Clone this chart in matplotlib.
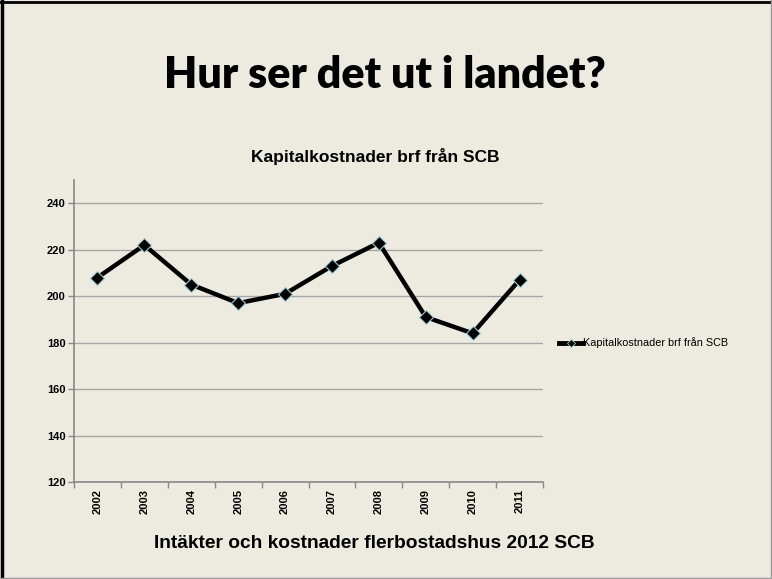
import matplotlib.pyplot as plt
from matplotlib.lines import Line2D

# data
ar = ['2002', '2003', '2004', '2005', '2006', '2007', '2008', '2009', '2010', '2011']
kostnad = [208, 222, 205, 197, 201, 213, 223, 191, 184, 207]
y_ticks = [120, 140, 160, 180, 200, 220, 240]

bg = '#EDEBE0'
grid_col = '#A6A6A6'

fig = plt.figure(figsize=(7.72, 5.79), dpi=100, facecolor=bg)
ax = fig.add_axes([74 / 772, 1 - 482 / 579, (543 - 74) / 772, (482 - 180) / 579])
ax.set_facecolor(bg)

x = list(range(len(ar)))
ax.plot(x, kostnad, color='black', linewidth=3.2, marker='D', markersize=7,
        markerfacecolor='black', markeredgecolor='#9FCBD4', markeredgewidth=0.8,
        label='Kapitalkostnader brf från SCB', zorder=3)

ax.set_xlim(-0.5, len(ar) - 0.5)
ax.set_ylim(120, 250)
ax.set_yticks(y_ticks)
ax.set_yticklabels([str(v) for v in y_ticks], fontsize=8, fontweight='bold',
                   family='Liberation Sans')
ax.set_xticks(x)
ax.set_xticklabels(ar, rotation=90, fontsize=8, fontweight='bold', family='Liberation Sans')
ax.set_xticks([i - 0.5 for i in range(len(ar) + 1)], minor=True)
ax.tick_params(axis='x', which='major', length=0, pad=5)
ax.tick_params(axis='x', which='minor', length=4, color='#888888', width=1)
ax.tick_params(axis='y', length=4, color='#888888', width=1, pad=2)

ax.grid(axis='y', color=grid_col, linewidth=1)
ax.set_axisbelow(True)
for s in ['top', 'right']:
    ax.spines[s].set_visible(False)
for s in ['left', 'bottom']:
    ax.spines[s].set_color('#888888')
    ax.spines[s].set_linewidth(1.2)
    ax.spines[s].set_zorder(2)

# legend
h = Line2D([], [], color='black', linewidth=3.5, marker='D', markersize=4,
           markerfacecolor='black', markeredgecolor='#9FCBD4', markeredgewidth=0.6)
fig.legend([h], ['Kapitalkostnader brf från SCB'], loc='center left',
           bbox_to_anchor=(549 / 772, 1 - 343 / 579), frameon=False,
           handlelength=2.2, handletextpad=0.05,
           prop={'family': 'Liberation Sans', 'size': 7.8})

# texter
fig.text(385 / 772, 1 - 75 / 579, 'Hur ser det ut i landet?', ha='center', va='center',
         fontsize=31, fontweight='heavy', family='Lato')
fig.text(375 / 772, 1 - 157 / 579, 'Kapitalkostnader brf från SCB', ha='center',
         va='center', fontsize=12.5, fontweight='bold', family='Liberation Sans')
fig.text(374 / 772, 1 - 544 / 579, 'Intäkter och kostnader flerbostadshus 2012 SCB',
         ha='center', va='center', fontsize=13.8, fontweight='bold',
         family='Liberation Sans')

# ram runt bilden
fig.add_artist(Line2D([0.003, 0.003], [0, 1], color='black', linewidth=2.5,
                      transform=fig.transFigure))
fig.add_artist(Line2D([0, 1], [0.997, 0.997], color='black', linewidth=2,
                      transform=fig.transFigure))
fig.add_artist(Line2D([0.999, 0.999], [0, 1], color='#999999', linewidth=1,
                      transform=fig.transFigure))
fig.add_artist(Line2D([0, 1], [0.001, 0.001], color='#999999', linewidth=1,
                      transform=fig.transFigure))

fig.savefig('out.png', dpi=100, facecolor=bg)
